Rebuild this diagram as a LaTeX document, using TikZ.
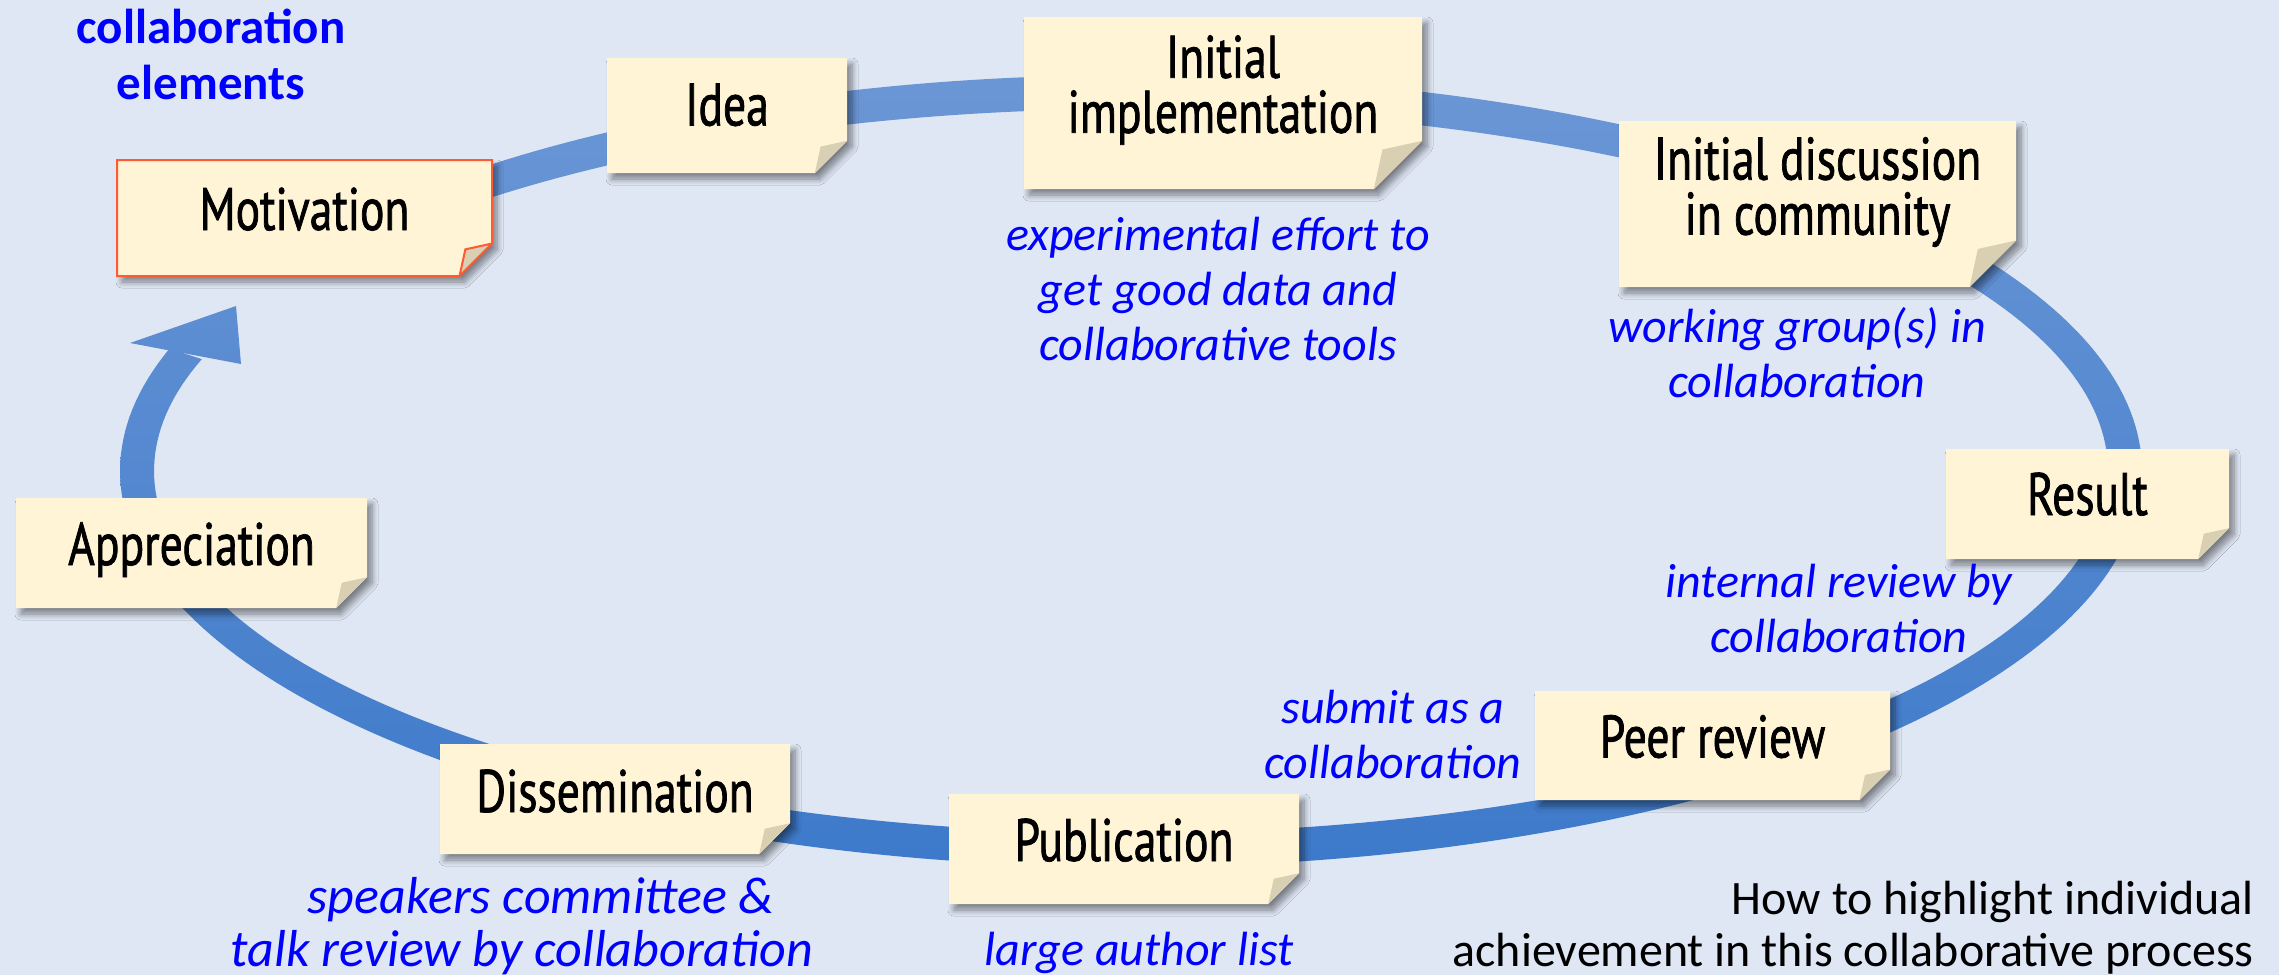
\documentclass[tikz,border=0pt]{standalone}
\usepackage{fontspec}
\setmainfont{Carlito}
\newfontfamily\handfont[FakeStretch=0.76,FakeBold=1.2]{PT Sans}
\usetikzlibrary{shadows.blur,calc}

\definecolor{bgblue}{RGB}{223,231,245}
\definecolor{notefill}{RGB}{255,244,214}
\definecolor{foldfill}{RGB}{217,208,180}
\definecolor{bandtop}{RGB}{108,151,214}
\definecolor{bandbot}{RGB}{60,121,202}
\definecolor{inkblue}{RGB}{0,0,255}
\definecolor{motivred}{RGB}{255,90,50}

% sticky note: [outline opts]{name}{x1}{y1}{x2}{y2}{text dy}{text opts}{text}
\newcommand\stickynote[9][draw=none]{%
  \pgfmathsetmacro\notew{#5-#3}%
  \pgfmathsetmacro\noteh{#6-#4}%
  \pgfmathsetmacro\notef{0.28*\noteh}%
  \pgfmathsetmacro\notei{0.82*\notef}%
  \node[notebox, minimum width=\notew pt, minimum height=\noteh pt] (#2) at ({(#3+#5)/2},{(#4+#6)/2}) {};
  \fill[notepaper] (#2.north west) -- (#2.north east) -- ($(#2.south east)+(0,-\notef)$)
    -- ($(#2.south east)+(-\notef,0)$) -- (#2.south west) -- cycle;
  \fill[foldfill] ($(#2.south east)+(0,-\notef)$) -- ($(#2.south east)+(-\notei,-\notei)$)
    -- ($(#2.south east)+(-\notef,0)$) -- cycle;
  \path[#1] (#2.north west) -- (#2.north east) -- ($(#2.south east)+(0,-\notef)$)
    -- ($(#2.south east)+(-\notef,0)$) -- (#2.south west) -- cycle
    ($(#2.south east)+(0,-\notef)$) -- ($(#2.south east)+(-\notei,-\notei)$)
    -- ($(#2.south east)+(-\notef,0)$);
  \node[notetext,#8] (#2-label) at ($(#2.center)+(0,#7)$) {#9};
}

\begin{document}
\begin{tikzpicture}[x=1pt,y=-1pt,
  notebox/.style={rectangle, inner sep=0pt, outer sep=0pt, draw=none},
  notepaper/.style={fill=notefill, blur shadow={shadow xshift=5pt, shadow yshift=-6pt,
      shadow blur radius=6pt, shadow blur steps=8, shadow opacity=45}},
  notetext/.style={font=\handfont\fontsize{60}{55}\selectfont, align=center, inner sep=0pt},
  oneline/.style={text height=43pt, text depth=13pt},
  caption/.style={font=\itshape\fontsize{48}{55}\selectfont, text=inkblue, align=center, inner sep=0pt},
  bandshade/.style={top color=bandtop, bottom color=bandbot},
]
\useasboundingbox (0,0) rectangle (2285,975);

\fill[bgblue] (0,0) rectangle (2279,975);
\fill[white] (2279,0) rectangle (2285,975);

% the cycle band, running clockwise from behind Motivation
\begin{scope}
  \clip plot[domain=224:558, samples=300, variable=\t] ({1131+1011*cos(\t)},{471+396*sin(\t)})
    -- plot[domain=558:224, samples=300, variable=\t] ({1131+977*cos(\t)},{471+362*sin(\t)}) -- cycle;
  \shade[bandshade] (0,60) rectangle (2285,890);
\end{scope}
% arrow head pointing back to Motivation
\begin{scope}
  \clip (236,306) -- (130,343) -- (241,364) -- cycle;
  \shade[bandshade] (0,60) rectangle (2285,890);
\end{scope}

\stickynote[draw=motivred,line width=2pt,line join=miter]{motivation}{117}{160}{492}{276}{-3}{oneline}{Motivation}
\stickynote{idea}{607}{58}{847}{173}{-5}{oneline}{Idea}
\stickynote{initimpl}{1024}{17}{1422}{189}{-13}{}{Initial\\implementation}
\stickynote{initdisc}{1619}{121}{2016}{287}{-12}{}{Initial discussion\\in community}
\stickynote{result}{1946}{449}{2229}{559}{-4}{oneline}{Result}
\stickynote{peer}{1535}{691}{1890}{800}{-3}{oneline}{Peer review}
\stickynote{publication}{949}{794}{1299}{904}{-3}{oneline}{Publication}
\stickynote{dissemination}{440}{744}{790}{854}{-2}{oneline}{Dissemination}
\stickynote{appreciation}{16}{498}{367}{608}{-3}{oneline}{Appreciation}

\node[caption] (cap-impl) at (1218,289) {experimental effort to\\get good data and\\collaborative tools};
\node[caption] (cap-disc) at (1797,353) {working group(s) in\\collaboration};
\node[caption] (cap-result) at (1839,608) {internal review by\\collaboration};
\node[caption] (cap-peer) at (1393,734) {submit as a\\collaboration};
\node[caption, font=\itshape\fontsize{52}{53}\selectfont] (cap-diss) at (522,926)
  {\hspace*{38pt}speakers committee \&\\talk review by collaboration};
\node[caption, anchor=base] (cap-pub) at (1139,965) {large author list};

\node[font=\bfseries\fontsize{49}{56}\selectfont, text=inkblue, align=center, inner sep=0pt] (legend) at (211,54) {collaboration\\elements};
\node[font=\fontsize{48}{52}\selectfont, align=right, anchor=east, inner sep=0pt] (question) at (2254,928)
  {How to highlight individual\\achievement in this collaborative process};
\end{tikzpicture}
\end{document}
